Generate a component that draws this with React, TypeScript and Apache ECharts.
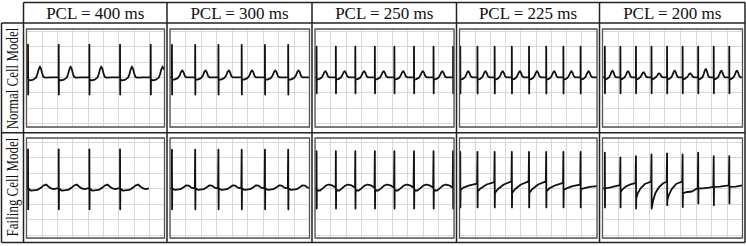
import React, { useEffect, useRef } from "react";
import * as echarts from "echarts";

type Pt = [number, number];

// ---------- texts ----------
const COLUMN_TITLES = ["PCL = 400 ms", "PCL = 300 ms", "PCL = 250 ms", "PCL = 225 ms", "PCL = 200 ms"];
const ROW_TITLES = ["Normal Cell Model", "Failing Cell Model"];

// ---------- x axis (ms) ----------
const X_MIN = 0;
const X_MAX = 1800;
const X_GRID_STEP = 200;

// ---------- Normal cell model ----------
const N400_SPIKES = [20, 420, 820, 1220, 1620];
const N400_WAVE: Pt[] = [[3, -0.15], [30, -0.2], [70, -0.15], [105, -0.02], [122, 0.2], [138, 0.5], [155, 0.7], [170, 0.55], [185, 0.25], [200, 0.03], [225, -0.02], [300, 0]];

const N300_SPIKES = [25, 325, 625, 925, 1225, 1525];
const N300_WAVE: Pt[] = [[3, -0.15], [30, -0.15], [75, -0.05], [100, 0.12], [118, 0.35], [135, 0.45], [150, 0.33], [165, 0.1], [185, 0], [240, 0]];

const N250_SPIKES = [20, 270, 522, 775, 1028, 1282, 1535, 1788];
const N250_WAVE: Pt[] = [[3, -0.15], [30, -0.12], [65, -0.02], [85, 0.15], [100, 0.32], [115, 0.4], [130, 0.3], [145, 0.08], [165, 0], [220, 0]];

const N225_SPIKES = [10, 235, 460, 685, 910, 1135, 1360, 1585];
const N225_WAVE: Pt[] = [[3, -0.15], [28, -0.12], [58, -0.02], [77, 0.15], [92, 0.32], [106, 0.4], [120, 0.3], [135, 0.08], [155, 0], [200, 0]];

const N200_SPIKES = [30, 230, 430, 630, 830, 1030, 1230, 1430, 1630];
const N200_T_PEAKS = [0.43, 0.4, 0.33, 0.26, 0.43, 0.26, 0.54, 0.43, 0.43];

// ---------- Failing cell model ----------
const F400_SPIKES = [20, 420, 820, 1220];
const F400_WAVE: Pt[] = [[4, 0], [40, -0.15], [120, -0.1], [170, 0.05], [200, 0.18], [235, 0.25], [265, 0.12], [300, 0], [340, -0.05], [375, 0]];
const F400_END = 1595;

const F300_SPIKES = [25, 325, 625, 925, 1225, 1525];
const F300_WAVE: Pt[] = [[4, 0], [40, -0.1], [110, -0.05], [150, 0.08], [185, 0.2], [215, 0.18], [250, 0.05], [295, 0]];

const F250_SPIKES = [20, 270, 522, 775, 1028, 1282, 1535, 1788];
const F250_WAVE: Pt[] = [[4, -0.1], [40, -0.15], [80, 0.0], [120, 0.18], [160, 0.25], [200, 0.2], [230, 0.1], [248, 0.05]];

const F225_SPIKES = [10, 235, 460, 685, 910, 1135, 1360, 1585];
const F225_WAVES: Pt[][] = [
  [[4, -0.1], [40, 0.05], [120, 0.2], [220, 0.3]],
  [[4, -0.2], [40, 0.0], [120, 0.25], [220, 0.4]],
  [[4, -0.3], [40, -0.05], [120, 0.25], [220, 0.45]],
  [[4, -0.3], [40, -0.05], [120, 0.25], [220, 0.45]],
  [[4, -0.3], [40, -0.05], [120, 0.25], [220, 0.45]],
  [[4, -0.2], [40, 0.0], [120, 0.2], [220, 0.35]],
  [[4, -0.1], [40, 0.0], [120, 0.15], [220, 0.25]],
  [[4, -0.05], [40, 0.0], [120, 0.1], [215, 0.15]],
];

const F200_SPIKES = [30, 230, 430, 630, 830, 1030, 1230, 1430, 1630];
const F200_TOPS = [2.3, 2.0, 2.08, 2.2, 2.26, 2.2, 2.3, 2.08, 2.08];
const F200_BOTTOMS = [-1.23, -1.23, -1.3, -1.3, -1.08, -1.2, -0.97, -1.08, -0.97];
const F200_WAVES: Pt[][] = [
  [[4, 0], [60, 0.05], [140, 0.15], [195, 0.21]],
  [[4, -0.22], [30, -0.05], [80, 0.15], [140, 0.28], [195, 0.34]],
  [[4, -0.63], [25, -0.3], [60, 0.0], [120, 0.3], [195, 0.43]],
  [[4, -1.27], [20, -0.8], [50, -0.3], [100, 0.1], [150, 0.33], [195, 0.43]],
  [[4, -0.75], [25, -0.4], [60, -0.05], [120, 0.3], [195, 0.43]],
  [[4, -0.33], [40, -0.25], [120, -0.2], [170, -0.05], [195, 0]],
  [[4, 0], [60, 0], [140, 0.05], [195, 0.1]],
  [[4, 0.1], [80, 0.12], [195, 0.2]],
  [[4, 0.1], [80, 0.12], [170, 0.2]],
];

// ---------- panel assembly ----------
type Panel = { spikes: number[]; tops: number[]; bottoms: number[]; waves: Pt[][]; end: number };

const same = <T,>(spikes: number[], v: T): T[] => spikes.map(() => v);

const PANELS: Panel[][] = [
  [
    { spikes: N400_SPIKES, tops: same(N400_SPIKES, 2.12), bottoms: same(N400_SPIKES, -1.12), waves: same(N400_SPIKES, N400_WAVE), end: X_MAX },
    { spikes: N300_SPIKES, tops: same(N300_SPIKES, 2.1), bottoms: same(N300_SPIKES, -1.12), waves: same(N300_SPIKES, N300_WAVE), end: X_MAX },
    { spikes: N250_SPIKES, tops: same(N250_SPIKES, 2.0), bottoms: same(N250_SPIKES, -1.04), waves: same(N250_SPIKES, N250_WAVE), end: X_MAX },
    { spikes: N225_SPIKES, tops: same(N225_SPIKES, 2.0), bottoms: same(N225_SPIKES, -1.05), waves: same(N225_SPIKES, N225_WAVE), end: X_MAX },
    {
      spikes: N200_SPIKES, tops: same(N200_SPIKES, 2.0), bottoms: same(N200_SPIKES, -1.04),
      waves: N200_T_PEAKS.map((t) => [[3, -0.15], [28, -0.1], [55, 0], [72, t * 0.4], [86, t * 0.85], [100, t], [114, t * 0.7], [128, t * 0.2], [145, 0], [190, 0]] as Pt[]),
      end: X_MAX,
    },
  ],
  [
    { spikes: F400_SPIKES, tops: same(F400_SPIKES, 2.52), bottoms: same(F400_SPIKES, -1.35), waves: same(F400_SPIKES, F400_WAVE), end: F400_END },
    { spikes: F300_SPIKES, tops: same(F300_SPIKES, 2.5), bottoms: same(F300_SPIKES, -1.35), waves: same(F300_SPIKES, F300_WAVE), end: X_MAX },
    { spikes: F250_SPIKES, tops: same(F250_SPIKES, 2.4), bottoms: same(F250_SPIKES, -1.3), waves: same(F250_SPIKES, F250_WAVE), end: X_MAX },
    { spikes: F225_SPIKES, tops: same(F225_SPIKES, 2.36), bottoms: same(F225_SPIKES, -1.23), waves: F225_WAVES, end: X_MAX },
    { spikes: F200_SPIKES, tops: F200_TOPS, bottoms: F200_BOTTOMS, waves: F200_WAVES, end: X_MAX },
  ],
];

function trace(p: Panel): Pt[] {
  const pts: Pt[] = [[X_MIN, 0]];
  let level = 0;
  p.spikes.forEach((t, i) => {
    const limit = i + 1 < p.spikes.length ? p.spikes[i + 1] - 1 : p.end;
    if (t > 0) pts.push([t - 0.5, level]);
    pts.push([t, p.tops[i]]);
    pts.push([t + 2, p.bottoms[i]]);
    for (const [dt, v] of p.waves[i]) {
      if (t + dt <= limit) {
        pts.push([t + dt, v]);
        level = v;
      }
    }
  });
  const last = pts[pts.length - 1];
  if (last[0] < p.end) pts.push([p.end, level]);
  return pts;
}

// ---------- layout (px) ----------
const COL_X = [23.5, 167, 312, 456.5, 599.5, 745];
const HEADER_TOP = 2.5;
const HEADER_BOTTOM = 23;
const ROW_SPLIT = 132.7;
const TABLE_BOTTOM = 242.5;
const LABEL_LEFT = 1.5;
const PANEL_TOPS = [29, 138];
const PANEL_BOTTOMS = [127, 238];
const Y_RANGES: Pt[] = [[-3.23, 3.14], [-3.2, 3.25]];
const SERIF = '"Liberation Serif", "Times New Roman", Times, "DejaVu Serif", serif';

export default function App() {
  const ref = useRef<HTMLDivElement>(null);
  useEffect(() => {
    if (!ref.current) return;
    const chart = echarts.init(ref.current, undefined, { renderer: "svg" });
    const grid: any[] = [];
    const xAxis: any[] = [];
    const yAxis: any[] = [];
    const series: any[] = [];
    const graphic: any[] = [];

    PANELS.forEach((row, r) =>
      row.forEach((p, c) => {
        const idx = r * 5 + c;
        const left = COL_X[c] + 3;
        const right = COL_X[c + 1] - 2.5;
        const top = PANEL_TOPS[r];
        const bottom = PANEL_BOTTOMS[r];
        grid.push({ left, top, width: right - left, height: bottom - top, containLabel: false });
        xAxis.push({
          gridIndex: idx, type: "value", min: X_MIN, max: X_MAX, interval: X_GRID_STEP,
          axisLine: { show: false }, axisTick: { show: false }, axisLabel: { show: false },
          splitLine: { show: true, lineStyle: { color: "#d9d9d9", width: 1 } },
        });
        yAxis.push({
          gridIndex: idx, type: "value", min: Y_RANGES[r][0], max: Y_RANGES[r][1], splitNumber: 6,
          axisLine: { show: false }, axisTick: { show: false }, axisLabel: { show: false },
          splitLine: { show: true, lineStyle: { color: "#d9d9d9", width: 1 } },
        });
        series.push({
          type: "line", xAxisIndex: idx, yAxisIndex: idx, data: trace(p),
          symbol: "none", showSymbol: false, silent: true, clip: true,
          lineStyle: { color: "#111", width: 1.8, join: "round" },
        });
        graphic.push({
          type: "rect", z: 10, silent: true,
          shape: { x: left, y: top, width: right - left, height: bottom - top },
          style: { fill: "none", stroke: "#555", lineWidth: 1.3 },
        });
      })
    );

    const lineStyle = { stroke: "#222", lineWidth: 1.5 };
    const hLine = (y: number, x1: number, x2: number) => ({ type: "line", z: 11, silent: true, shape: { x1, y1: y, x2, y2: y }, style: lineStyle });
    const vLine = (x: number, y1: number, y2: number) => ({ type: "line", z: 11, silent: true, shape: { x1: x, y1, x2: x, y2 }, style: lineStyle });
    const right = COL_X[COL_X.length - 1];
    graphic.push(hLine(HEADER_TOP, COL_X[0], right));
    graphic.push(hLine(HEADER_BOTTOM, LABEL_LEFT, right));
    graphic.push(hLine(ROW_SPLIT, LABEL_LEFT, right));
    graphic.push(hLine(TABLE_BOTTOM, LABEL_LEFT, right));
    graphic.push(vLine(LABEL_LEFT, HEADER_BOTTOM, TABLE_BOTTOM));
    COL_X.forEach((x) => graphic.push(vLine(x, HEADER_TOP, TABLE_BOTTOM)));

    COLUMN_TITLES.forEach((t, c) => {
      graphic.push({
        type: "text", z: 12, silent: true,
        x: (COL_X[c] + COL_X[c + 1]) / 2, y: 13.5,
        style: {
          text: t, font: `17px ${SERIF}`, fontFamily: SERIF, fontSize: 17, fill: "#111",
          align: "center", verticalAlign: "middle", textAlign: "center", textVerticalAlign: "middle",
        },
      });
    });
    const rowCenters = [78.5, 187];
    ROW_TITLES.forEach((t, r) => {
      graphic.push({
        type: "text", z: 12, silent: true,
        x: 12.8, y: rowCenters[r], rotation: Math.PI / 2, scaleY: 1.25,
        style: {
          text: t, font: `13px ${SERIF}`, fontFamily: SERIF, fontSize: 13, fill: "#111",
          align: "center", verticalAlign: "middle", textAlign: "center", textVerticalAlign: "middle",
        },
      });
    });

    chart.setOption({
      animation: false,
      backgroundColor: "#ffffff",
      grid, xAxis, yAxis, series, graphic,
    });
    return () => chart.dispose();
  }, []);
  return <div ref={ref} style={{ position: "fixed", left: 0, top: 0, width: 746, height: 246, background: "#fff" }} />;
}
